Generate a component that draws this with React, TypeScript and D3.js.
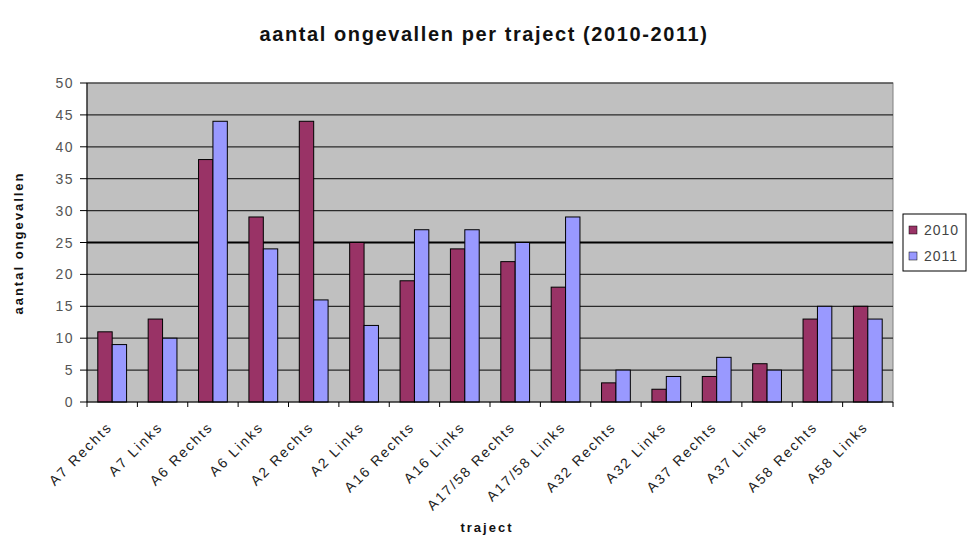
import React from "react";
import * as d3 from "d3";

const categories = [
  "A7 Rechts", "A7 Links", "A6 Rechts", "A6 Links", "A2 Rechts", "A2 Links",
  "A16 Rechts", "A16 Links", "A17/58 Rechts", "A17/58 Links", "A32 Rechts",
  "A32 Links", "A37 Rechts", "A37 Links", "A58 Rechts", "A58 Links",
];
const series = ["2010", "2011"];
const values2010 = [11, 13, 38, 29, 44, 25, 19, 24, 22, 18, 3, 2, 4, 6, 13, 15];
const values2011 = [9, 10, 44, 24, 16, 12, 27, 27, 25, 29, 5, 4, 7, 5, 15, 13];
const yTicks = [0, 5, 10, 15, 20, 25, 30, 35, 40, 45, 50];
const colors = ["#993366", "#9999FF"];

const W = 969;
const H = 541;
const left = 87;
const right = 893;
const top = 83;
const bottom = 402;
const FONT = "'Liberation Sans', Arial, sans-serif";

export default function App() {
  const x0 = d3.scaleBand().domain(categories).range([left, right]).padding(0);
  const bw = x0.bandwidth();
  const gap = (bw * 1.5) / 3.5;
  const x1 = d3.scaleBand().domain(series).range([gap / 2, bw - gap / 2]).padding(0);
  const y = d3.scaleLinear().domain([0, 50]).range([bottom, top]);
  const data = [values2010, values2011];

  return (
    <svg width={W} height={H} style={{ position: "absolute", left: 0, top: 0, background: "#fff" }}>
      <rect x={0} y={0} width={W} height={H} fill="#fff" />
      {/* title */}
      <text x={484} y={41} textAnchor="middle" fontFamily={FONT} fontWeight="bold" fontSize={20} letterSpacing={1.6} fill="#111">
        aantal ongevallen per traject (2010-2011)
      </text>
      {/* plot area */}
      <rect x={left} y={top} width={right - left} height={bottom - top} fill="#C0C0C0" stroke="#808080" strokeWidth={1} />
      {yTicks.filter((t) => t > 0).map((t) => (
        <line key={t} x1={left} x2={right} y1={y(t)} y2={y(t)} stroke={t === 25 ? "#000" : "#2a2a2a"} strokeWidth={t === 25 ? 2 : 1.2} />
      ))}
      {/* bars */}
      {categories.map((c, i) => (
        <g key={c} transform={`translate(${x0(c)},0)`}>
          {series.map((s, j) => (
            <rect key={s} x={x1(s)} y={y(data[j][i])} width={x1.bandwidth()} height={bottom - y(data[j][i])} fill={colors[j]} stroke="#000" strokeWidth={1} />
          ))}
        </g>
      ))}
      {/* y axis */}
      <line x1={left} x2={left} y1={top} y2={bottom} stroke="#000" strokeWidth={1} />
      {yTicks.map((t) => (
        <g key={t}>
          <line x1={left - 7} x2={left} y1={y(t)} y2={y(t)} stroke="#000" />
          <text x={74} y={y(t) + 5} textAnchor="end" fontFamily={FONT} fontSize={14} letterSpacing={1.5} fill="#555">
            {t}
          </text>
        </g>
      ))}
      {/* x axis */}
      <line x1={left} x2={right} y1={bottom} y2={bottom} stroke="#000" strokeWidth={1} />
      {d3.range(categories.length + 1).map((k) => (
        <line key={k} x1={left + k * bw} x2={left + k * bw} y1={bottom} y2={bottom + 5} stroke="#000" />
      ))}
      {categories.map((c) => {
        const cx = (x0(c) as number) + bw / 2;
        return (
          <text key={c} transform={`translate(${cx + 1},${428}) rotate(-45)`} textAnchor="end" fontFamily={FONT} fontSize={14} letterSpacing={2} fill="#222">
            {c}
          </text>
        );
      })}
      {/* axis titles */}
      <text x={487} y={532} textAnchor="middle" fontFamily={FONT} fontWeight="bold" fontSize={13} letterSpacing={2} fill="#111">
        traject
      </text>
      <text transform={`translate(23,243) rotate(-90)`} textAnchor="middle" fontFamily={FONT} fontWeight="bold" fontSize={13} letterSpacing={2} fill="#111">
        aantal ongevallen
      </text>
      {/* legend */}
      <rect x={903} y={214} width={63} height={57} fill="#fff" stroke="#000" strokeWidth={1} />
      {series.map((s, j) => (
        <g key={s}>
          <rect x={909} y={226 + j * 26} width={8} height={8} fill={colors[j]} stroke="#000" strokeWidth={0.5} />
          <text x={924} y={235 + j * 26} fontFamily={FONT} fontSize={14} letterSpacing={1} fill="#444">
            {s}
          </text>
        </g>
      ))}
    </svg>
  );
}
